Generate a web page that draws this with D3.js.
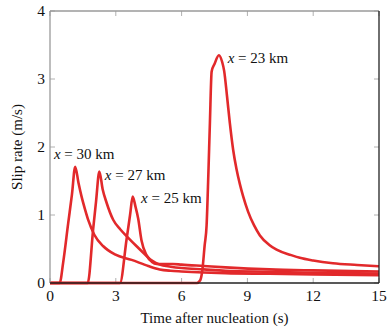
<!DOCTYPE html>
<html>
<head>
<meta charset="utf-8">
<script src="https://cdn.jsdelivr.net/npm/d3@7"></script>
<style>
  body { margin: 0; background: #fff; }
</style>
</head>
<body>
<div id="chart"></div>
<script>
// slip rate histories (time in s, slip rate in m/s)
const t30 = [0, 0.44, 0.6, 0.83, 1.0, 1.15, 1.3, 1.44, 1.6, 1.75, 2.02, 2.43, 2.96, 3.72, 4.48, 5.0, 5.5, 6.0, 7.0, 8.0, 10.0, 12.0, 15.0];
const v30 = [0, 0, 0.3, 0.88, 1.3, 1.71, 1.47, 1.27, 1.08, 0.92, 0.71, 0.54, 0.42, 0.34, 0.25, 0.2, 0.18, 0.17, 0.155, 0.145, 0.135, 0.125, 0.115];

const t27 = [0, 1.72, 1.97, 2.1, 2.25, 2.4, 2.58, 2.88, 3.2, 3.49, 3.95, 4.3, 4.56, 4.8, 5.0, 5.5, 6.0, 7.0, 8.0, 10.0, 12.0, 15.0];
const v27 = [0, 0, 0.8, 1.2, 1.64, 1.38, 1.18, 0.93, 0.79, 0.69, 0.54, 0.43, 0.35, 0.3, 0.27, 0.24, 0.22, 0.2, 0.18, 0.165, 0.15, 0.14];

const t25 = [0, 3.19, 3.49, 3.65, 3.77, 3.9, 4.02, 4.17, 4.4, 4.65, 4.86, 5.2, 5.6, 6.0, 7.0, 8.0, 10.0, 12.0, 15.0];
const v25 = [0, 0, 0.64, 1.0, 1.27, 1.12, 0.95, 0.63, 0.41, 0.31, 0.28, 0.28, 0.28, 0.27, 0.25, 0.23, 0.2, 0.185, 0.17];

const t23 = [0, 6.7, 6.85, 6.95, 7.05, 7.14, 7.22, 7.29, 7.37, 7.5, 7.7, 7.85, 7.94, 8.07, 8.2, 8.35, 8.5, 8.66, 8.8, 9.03, 9.3, 9.57, 10.0, 10.33, 11.0, 11.39, 12.0, 12.9, 14.0, 15.0];
const v23 = [0, 0, 0.04, 0.2, 0.55, 0.85, 1.6, 2.35, 3.11, 3.22, 3.35, 3.25, 3.12, 2.75, 2.35, 1.96, 1.68, 1.45, 1.28, 1.05, 0.85, 0.7, 0.56, 0.49, 0.41, 0.37, 0.33, 0.29, 0.265, 0.245];

// label text and anchor (data coords)
const labels = ["30", "27", "25", "23"];
const labelT = [0.18, 2.5, 4.15, 8.1];
const labelV = [1.82, 1.52, 1.18, 3.24];

const xTicks = [0, 3, 6, 9, 12, 15];
const yTicks = [0, 1, 2, 3, 4];

const serif = "'Liberation Serif', 'Times New Roman', 'DejaVu Serif', serif";

const width = 392, height = 332;
const margin = {top: 11, right: 13, bottom: 49, left: 50};
const w = width - margin.left - margin.right;
const h = height - margin.top - margin.bottom;

const svg = d3.select("#chart").append("svg")
    .attr("width", width)
    .attr("height", height)
    .attr("font-family", serif);

const g = svg.append("g")
    .attr("transform", `translate(${margin.left},${margin.top})`);

const x = d3.scaleLinear().domain([0, 15]).range([0, w]);
const y = d3.scaleLinear().domain([0, 4]).range([h, 0]);

// inward ticks on all four sides
const tickColor = "#b0b0b0";
g.append("g").selectAll("line").data(xTicks).join("line")
    .attr("x1", d => x(d)).attr("x2", d => x(d))
    .attr("y1", h).attr("y2", h - 5)
    .attr("stroke", tickColor);
g.append("g").selectAll("line").data(xTicks).join("line")
    .attr("x1", d => x(d)).attr("x2", d => x(d))
    .attr("y1", 0).attr("y2", 5)
    .attr("stroke", tickColor);
g.append("g").selectAll("line").data(yTicks).join("line")
    .attr("x1", 0).attr("x2", 5)
    .attr("y1", d => y(d)).attr("y2", d => y(d))
    .attr("stroke", tickColor);
g.append("g").selectAll("line").data(yTicks).join("line")
    .attr("x1", w).attr("x2", w - 5)
    .attr("y1", d => y(d)).attr("y2", d => y(d))
    .attr("stroke", tickColor);

// tick labels
g.append("g").selectAll("text").data(xTicks).join("text")
    .attr("x", d => x(d)).attr("y", h + 18)
    .attr("text-anchor", "middle")
    .attr("font-family", serif)
    .attr("font-size", 15.5)
    .attr("fill", "#111")
    .text(d => d);
g.append("g").selectAll("text").data(yTicks).join("text")
    .attr("x", -5).attr("y", d => y(d) + 5)
    .attr("text-anchor", "end")
    .attr("font-family", serif)
    .attr("font-size", 15.5)
    .attr("fill", "#111")
    .text(d => d);

// curves
const line = d3.line()
    .x(d => x(d[0]))
    .y(d => y(d[1]))
    .curve(d3.curveMonotoneX);

const series = [[t30, v30], [t27, v27], [t25, v25], [t23, v23]];
series.forEach(function(s) {
    const pts = s[0].map((t, i) => [t, s[1][i]]);
    g.append("path")
        .datum(pts)
        .attr("d", line)
        .attr("fill", "none")
        .attr("stroke", "#e2292b")
        .attr("stroke-width", 2.6)
        .attr("stroke-linejoin", "round");
});

// frame: left/top grey, right/bottom dark
g.append("line").attr("x1", 0).attr("x2", 0).attr("y1", 0).attr("y2", h)
    .attr("stroke", "#9a9a9a").attr("stroke-width", 1.3);
g.append("line").attr("x1", 0).attr("x2", w).attr("y1", 0).attr("y2", 0)
    .attr("stroke", "#9a9a9a").attr("stroke-width", 1.3);
g.append("line").attr("x1", w).attr("x2", w).attr("y1", 0).attr("y2", h)
    .attr("stroke", "#222").attr("stroke-width", 1.3);
g.append("line").attr("x1", 0).attr("x2", w).attr("y1", h).attr("y2", h)
    .attr("stroke", "#222").attr("stroke-width", 1.3);

// curve labels
labels.forEach(function(l, i) {
    const txt = g.append("text")
        .attr("x", x(labelT[i]))
        .attr("y", y(labelV[i]))
        .attr("font-family", serif)
        .attr("font-size", 15)
        .attr("fill", "#111");
    txt.append("tspan").attr("font-style", "italic").text("x");
    txt.append("tspan").text(" = " + l + " km");
});

// axis titles
svg.append("text")
    .attr("x", margin.left + w / 2)
    .attr("y", 323)
    .attr("text-anchor", "middle")
    .attr("font-family", serif)
    .attr("font-size", 15)
    .attr("fill", "#111")
    .text("Time after nucleation (s)");
svg.append("text")
    .attr("transform", `translate(22,${margin.top + h / 2}) rotate(-90)`)
    .attr("text-anchor", "middle")
    .attr("font-family", serif)
    .attr("font-size", 15)
    .attr("fill", "#111")
    .text("Slip rate (m/s)");
</script>
</body>
</html>
